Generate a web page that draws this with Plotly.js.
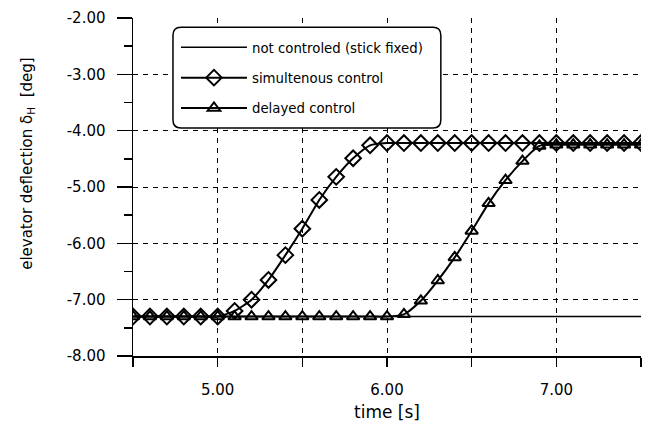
<!DOCTYPE html>
<html>
<head>
<meta charset="utf-8">
<script src="https://cdn.plot.ly/plotly-3.0.1.min.js"></script>
<style>
  html, body { margin: 0; padding: 0; background: #fff; }
  #chart { width: 651px; height: 426px; }
</style>
</head>
<body>
<div id="chart"></div>
<script>
// time samples [s]
const time = [4.5, 4.6, 4.7, 4.8, 4.9, 5.0, 5.1, 5.2, 5.3, 5.4, 5.5, 5.6, 5.7, 5.8, 5.9, 6.0,
              6.1, 6.2, 6.3, 6.4, 6.5, 6.6, 6.7, 6.8, 6.9, 7.0, 7.1, 7.2, 7.3, 7.4, 7.5];

// elevator deflection [deg], stick fixed
const notControlled = [-7.30, -7.30, -7.30, -7.30, -7.30, -7.30, -7.30, -7.30, -7.30, -7.30, -7.30,
                       -7.30, -7.30, -7.30, -7.30, -7.30, -7.30, -7.30, -7.30, -7.30, -7.30, -7.30,
                       -7.30, -7.30, -7.30, -7.30, -7.30, -7.30, -7.30, -7.30, -7.30];

// elevator deflection [deg], control applied simultaneously
const simultaneous = [-7.30, -7.30, -7.30, -7.30, -7.30, -7.30, -7.20, -7.00, -6.65, -6.21, -5.74,
                      -5.23, -4.82, -4.49, -4.26, -4.22, -4.22, -4.22, -4.22, -4.22, -4.22, -4.22,
                      -4.22, -4.22, -4.22, -4.22, -4.22, -4.22, -4.22, -4.22, -4.22];

// elevator deflection [deg], control applied with delay
const delayed = [-7.30, -7.30, -7.30, -7.30, -7.30, -7.30, -7.30, -7.30, -7.30, -7.30, -7.30,
                 -7.30, -7.30, -7.30, -7.30, -7.30, -7.26, -7.02, -6.66, -6.25, -5.78, -5.29,
                 -4.88, -4.54, -4.27, -4.25, -4.25, -4.25, -4.25, -4.25, -4.25];

const seriesNames = ['not controled (stick fixed)', 'simultenous control', 'delayed control'];

// labelled ticks and the unlabelled half-steps between them
const xTickVals = [5.0, 6.0, 7.0];
const xTickText = ['5.00', '6.00', '7.00'];
const xMinorVals = [4.5, 5.5, 6.5, 7.5];
const yTickVals = [-8, -7, -6, -5, -4, -3, -2];
const yTickText = ['-8.00', '-7.00', '-6.00', '-5.00', '-4.00', '-3.00', '-2.00'];
const yMinorVals = [-7.5, -6.5, -5.5, -4.5, -3.5, -2.5];

const FONT = 'DejaVu Sans, Arial, sans-serif';

const traces = [
  {
    x: time, y: notControlled, name: seriesNames[0], legendgroup: 'a',
    mode: 'lines', line: { color: '#000', width: 1.5 }
  },
  {
    x: time, y: simultaneous, name: seriesNames[1], legendgroup: 'b',
    mode: 'lines+markers', line: { color: '#000', width: 2, shape: 'spline', smoothing: 0.6 },
    marker: { symbol: 'diamond-open', size: 12, color: '#000', line: { width: 2, color: '#000' } }
  },
  {
    x: time, y: delayed, name: seriesNames[2], legendgroup: 'c',
    mode: 'lines+markers', line: { color: '#000', width: 2, shape: 'spline', smoothing: 0.6 },
    marker: { symbol: 'triangle-up-open', size: 11, color: '#000', line: { width: 2, color: '#000' } }
  }
];

// rounded frame behind the legend (paper coordinates)
function roundedRect(x0, y0, x1, y1, rx, ry) {
  return 'M' + (x0 + rx) + ',' + y1 +
    ' L' + (x1 - rx) + ',' + y1 + ' Q' + x1 + ',' + y1 + ' ' + x1 + ',' + (y1 - ry) +
    ' L' + x1 + ',' + (y0 + ry) + ' Q' + x1 + ',' + y0 + ' ' + (x1 - rx) + ',' + y0 +
    ' L' + (x0 + rx) + ',' + y0 + ' Q' + x0 + ',' + y0 + ' ' + x0 + ',' + (y0 + ry) +
    ' L' + x0 + ',' + (y1 - ry) + ' Q' + x0 + ',' + y1 + ' ' + (x0 + rx) + ',' + y1 + ' Z';
}

const gridStyle = { showgrid: true, gridcolor: '#000', gridwidth: 1, griddash: '5px,5px' };

const layout = {
  width: 651, height: 426,
  margin: { l: 133, r: 10, t: 18, b: 70 },
  paper_bgcolor: '#fff', plot_bgcolor: '#fff',
  font: { family: FONT, size: 15, color: '#000' },
  showlegend: true,
  legend: {
    x: 0.0846, y: 0.958, xanchor: 'left', yanchor: 'top',
    bgcolor: 'rgba(0,0,0,0)', borderwidth: 0,
    font: { family: FONT, size: 13.3, color: '#000' },
    tracegroupgap: 10, itemwidth: 66
  },
  xaxis: Object.assign({
    range: [4.5, 7.5], tickvals: xTickVals, ticktext: xTickText,
    showline: true, linecolor: '#000', linewidth: 1.5,
    ticks: 'outside', ticklen: 9, tickwidth: 1.5, tickcolor: '#000',
    ticklabelstandoff: 10,
    minor: Object.assign({ tickvals: xMinorVals, ticks: 'outside', ticklen: 9, tickwidth: 1.5, tickcolor: '#000' }, gridStyle),
    zeroline: false,
    title: { text: 'time [s]', font: { family: FONT, size: 17 }, standoff: 8 }
  }, gridStyle),
  yaxis: Object.assign({
    range: [-8, -2], tickvals: yTickVals, ticktext: yTickText,
    showline: true, linecolor: '#000', linewidth: 1.5,
    ticks: 'outside', ticklen: 15, tickwidth: 1.5, tickcolor: '#000',
    ticklabelstandoff: 8,
    minor: { tickvals: yMinorVals, ticks: 'outside', ticklen: 8, tickwidth: 1.5, tickcolor: '#000', showgrid: false },
    zeroline: false
  }, gridStyle),
  shapes: [
    {
      type: 'path', xref: 'paper', yref: 'paper', layer: 'above',
      path: roundedRect(0.0787, 0.6746, 0.606, 0.973, 0.0157, 0.0237),
      fillcolor: '#fff', line: { color: '#000', width: 1.5 }
    }
  ],
  annotations: [
    {
      text: 'elevator deflection δ<sub>H</sub>  [deg]', textangle: -90,
      xref: 'paper', yref: 'paper', x: -0.209, y: 0.568,
      xanchor: 'center', yanchor: 'middle', showarrow: false,
      font: { family: FONT, size: 15, color: '#000' }
    }
  ]
};

Plotly.newPlot('chart', traces, layout, { staticPlot: true, displayModeBar: false });
</script>
</body>
</html>
